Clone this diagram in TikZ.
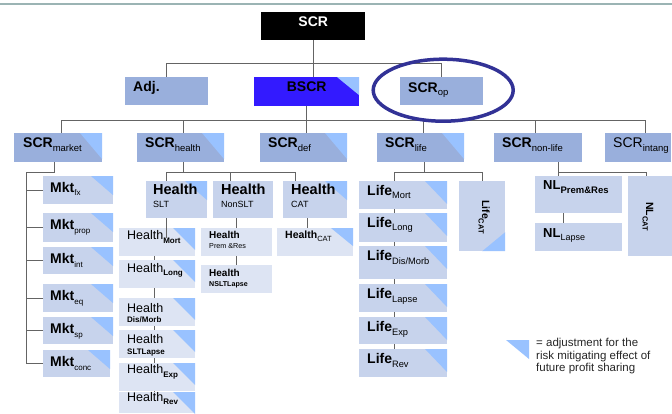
\documentclass[tikz,border=0pt]{standalone}
\usepackage{fontspec}
\setmainfont{Liberation Sans}
\definecolor{boxdark}{RGB}{153,175,220}
\definecolor{boxmid}{RGB}{199,211,236}
\definecolor{boxlight}{RGB}{221,228,243}
\definecolor{ppsblue}{RGB}{153,194,255}
\definecolor{bscrblue}{RGB}{51,26,255}
\definecolor{ringblue}{RGB}{50,50,150}
\definecolor{wiregray}{RGB}{100,100,100}
\definecolor{rulegray}{RGB}{155,180,180}
\newcommand\fs[1]{\fontsize{#1}{#1}\selectfont}
\newcommand\lo[2][9.5]{\raisebox{-3.5pt}{\fs{#1}\mdseries #2}}
\newcommand\twoline[3]{\vtop{\baselineskip=#3pt\hbox{#1}\hbox{#2}}}
% box + its text: [dx]{name}{style}{x}{y}{w}{h}{dy}{text}
\newcommand\bx[9][8]{%
  \node[#3, minimum width=#6pt, minimum height=#7pt] (#2) at (#4,#5) {};
  \node[lbl] (#2-t) at ([shift={(#1pt,-#8pt)}]#2.north west) {#9};}
\tikzset{
  blk/.style={rectangle, inner sep=0pt, anchor=north west},
  dark/.style={blk, fill=boxdark},
  pale/.style={blk, fill=boxmid},
  leaf/.style={blk, fill=boxlight},
  pps/.style={path picture={\fill[ppsblue] (path picture bounding box.north east)
      -- ++(-22pt,0pt) -- ++(22pt,-#1pt) -- cycle;}},
  pps/.default=22,
  ppsr/.style={path picture={\fill[ppsblue] (path picture bounding box.south east)
      -- ++(-23pt,0pt) -- ++(23pt,19pt) -- cycle;}},
  lbl/.style={anchor=base west, inner sep=0pt, font=\fs{14}\bfseries},
  wire/.style={draw=wiregray, line width=0.9pt},
  ring/.style={draw=ringblue, line width=3.5pt},
}

\begin{document}
\begin{tikzpicture}[x=1pt,y=-1pt]
  \useasboundingbox (0,0) rectangle (672,414);
  \draw[rulegray, line width=2pt] (0,3.7) -- (672,3.7);

  % top levels
  \node[blk, fill=black, minimum width=104pt, minimum height=28pt] (scr) at (261,12) {};
  \node[lbl, anchor=base, text=white] (scr-t) at ([yshift=-15pt]scr.north) {SCR};
  \bx{adj}{dark}{125}{77}{83}{28}{15}{Adj.}
  \node[blk, fill=bscrblue, pps=18, minimum width=105pt, minimum height=29pt] (bscr) at (254,77) {};
  \node[lbl, anchor=base] (bscr-t) at ([yshift=-15pt]bscr.north) {BSCR};
  \bx{scrop}{dark}{400}{77}{83}{28}{15.5}{SCR\lo{op}}

  \bx[9]{market}{dark,pps=26}{14}{133}{88}{29}{15}{SCR\lo{market}}
  \bx{health}{dark,pps=26}{137}{133}{87}{29}{15}{SCR\lo{health}}
  \bx{def}{dark,pps=26}{260}{133}{87}{29}{15}{SCR\lo{def}}
  \bx{life}{dark,pps=26}{377}{133}{87}{29}{15}{SCR\lo{life}}
  \bx{nonlife}{dark}{494}{133}{88}{29}{15}{SCR\lo{non-life}}
  \bx{intang}{dark}{605}{133}{66}{29}{15}{\mdseries SCR\lo{intang}}

  % market
  \foreach \n/\y/\w/\h in {fx/176/70/28, prop/213/70/29, int/247/70/27,
      eq/284/70/28, sp/317/70/27, conc/350/67/27}
    {\bx[7]{\n}{pale,pps=19}{43}{\y}{\w}{\h}{16.5}{Mkt\lo[8]{\n}}}

  % health
  \bx[7]{slt}{pale,pps=19}{146}{181}{61}{37}{14}{\twoline{\fs{14.5}Health}{\fs{9}\mdseries SLT}{12.7}}
  \bx{nonslt}{pale}{213}{181}{60}{37}{14}{\twoline{\fs{14.5}Health}{\fs{9}\mdseries NonSLT}{12.7}}
  \bx{hcat}{pale,pps=19}{283}{181}{64}{37}{14}{\twoline{\fs{14.5}Health}{\fs{9}\mdseries CAT}{12.7}}
  \bx{hmort}{leaf,pps}{119}{228}{76}{28}{12}{\mdseries\fs{12.5}Health\lo[8]{\bfseries Mort}}
  \bx{hlong}{leaf,pps}{119}{260}{76}{28}{12.5}{\mdseries\fs{12.5}Health\lo[8]{\bfseries Long}}
  \bx{hdis}{leaf,pps}{119}{298}{76}{28}{14}{\mdseries\twoline{\fs{12.5}Health}{\fs{8}\bfseries Dis/Morb}{10}}
  \bx{hslap}{leaf,pps}{119}{330}{76}{28}{13}{\mdseries\twoline{\fs{12.5}Health}{\fs{8}\bfseries SLTLapse}{11}}
  \bx{hexp}{leaf,pps}{119}{363}{76}{28}{10.5}{\mdseries\fs{12.5}Health\lo[8]{\bfseries Exp}}
  \bx{hrev}{leaf,pps}{119}{392}{76}{21}{9}{\mdseries\fs{12.5}Health\lo[8]{\bfseries Rev}}
  \bx{hprem}{leaf}{201}{228}{71}{28}{10.3}{\twoline{\fs{10}Health}{\fs{7.2}\mdseries Prem \&Res}{10}}
  \bx{hnslt}{leaf}{201}{265}{71}{28}{11.7}{\twoline{\fs{10}Health}{\fs{7.1}NSLTLapse}{10}}
  \bx{hcatl}{leaf,pps=18}{277}{228}{76}{28}{10.3}{\fs{10.5}Health\lo[7.5]{CAT}}

  % life
  \foreach \n/\y/\h/\s in {lmort/181/28/Mort, llong/213/29/Long, ldis/246/33/{Dis/Morb},
      llapse/284/28/Lapse, lexp/317/27/Exp, lrev/349/28/Rev}
    {\bx{\n}{pale,pps=23}{359}{\y}{88}{\h}{14.5}{Life\lo[9.3]{\s}}}
  \node[pale, ppsr, minimum width=46pt, minimum height=70pt] (lcat) at (459,181) {};
  \node[lbl, rotate=-90, font=\fs{10.5}\bfseries] (lcat-t) at ([yshift=-19pt]lcat.north) {Life\lo[7.5]{\bfseries CAT}};

  % non-life
  \bx{nlprem}{pale}{535}{176}{87}{37}{14}{\fs{13}NL\lo{\bfseries Prem\&Res}}
  \bx{nllapse}{pale}{535}{223}{87}{28}{14}{\fs{13}NL\lo[9]{Lapse}}
  \node[pale, minimum width=44pt, minimum height=80pt] (nlcat) at (628,176) {};
  \node[lbl, rotate=-90, font=\fs{10.5}\bfseries] (nlcat-t) at ([shift={(-4pt,-26pt)}]nlcat.north) {NL\lo[7.5]{\bfseries CAT}};

  % connectors
  \coordinate (topbus) at ([yshift=-23pt]scr.south);
  \draw[wire] (scr.south) -- (scr.south |- bscr.north);
  \draw[wire] (adj.north) |- (topbus) -| (scrop.north);
  \coordinate (midbus) at ([yshift=-14pt]bscr.south);
  \draw[wire] (bscr.south) -- (midbus);
  \draw[wire] ([xshift=3pt]market.north) |- (midbus) -| ([xshift=7pt]intang.north);
  \foreach \n/\d in {health/3, def/3, life/3, nonlife/-3}
    \draw[wire] ([xshift=\d pt]\n.north) -- ([xshift=\d pt]\n.north |- midbus);

  \coordinate (mkt-spine) at ([shift={(-32pt,-10pt)}]market.south);
  \draw[wire] ([xshift=-4pt]market.south) |- (mkt-spine) |- (conc.west);
  \foreach \m in {fx,prop,int,eq,sp}
    \draw[wire] (\m.west) -- (\m.west -| mkt-spine);

  \coordinate (hl-bus) at ([shift={(3pt,-10pt)}]health.south);
  \draw[wire] ([xshift=3pt]health.south) -- (hl-bus);
  \draw[wire] ([xshift=-10.5pt]slt.north) |- (hl-bus) -| ([xshift=-20pt]hcat.north);
  \draw[wire] ([xshift=-13pt]nonslt.north) -- ([xshift=-13pt]nonslt.north |- hl-bus);
  \draw[wire] ([xshift=-10.5pt]slt.south) -- ([xshift=-10.5pt,yshift=-10pt]slt.south |- hmort.north);
  \foreach \a/\b in {hmort/hlong, hlong/hdis, hdis/hslap, hslap/hexp, hexp/hrev}
    \draw[wire] ([xshift=35pt]\a.south west) -- ([xshift=35pt]\b.north west);
  \draw[wire] (hprem.north) -- (hprem.north |- nonslt.south);
  \draw[wire] (hprem.south) -- (hnslt.north);
  \draw[wire] ([xshift=-8pt]hcat.south) -- ([xshift=-8pt]hcatl.north);

  \coordinate (lf-bus) at ([shift={(3.5pt,-10pt)}]life.south);
  \draw[wire] ([xshift=3.5pt]life.south) -- (lf-bus);
  \draw[wire] ([xshift=35pt]lmort.north west) |- (lf-bus) -| (lcat.north);
  \foreach \a/\b in {lmort/llong, llong/ldis, ldis/llapse, llapse/lexp, lexp/lrev}
    \draw[wire] ([xshift=35pt]\a.south west) -- ([xshift=35pt]\b.north west);

  \draw[wire] ([xshift=20pt]nonlife.south) -- ([xshift=20pt]nonlife.south |- nlprem.north);
  \draw[wire] ([shift={(20pt,-10pt)}]nonlife.south) -| ([xshift=-4pt]nlcat.north);
  \draw[wire] ([xshift=28pt]nlprem.south west) -- ([xshift=28pt]nllapse.north west);

  % ring round SCR_op
  \draw[ring] ([shift={(1.5pt,1pt)}]scrop.center) ellipse [x radius=70pt, y radius=31pt];

  % legend
  \fill[ppsblue] (506,340) -- (529,340) -- (529,359) -- cycle;
  \node[lbl, font=\fs{11.5}, text=black!85] (legend) at (536,346.7)
    {\vtop{\baselineskip=12.5pt\hbox{= adjustment for the}\hbox{risk mitigating effect of}\hbox{future profit sharing}}};
\end{tikzpicture}
\end{document}
